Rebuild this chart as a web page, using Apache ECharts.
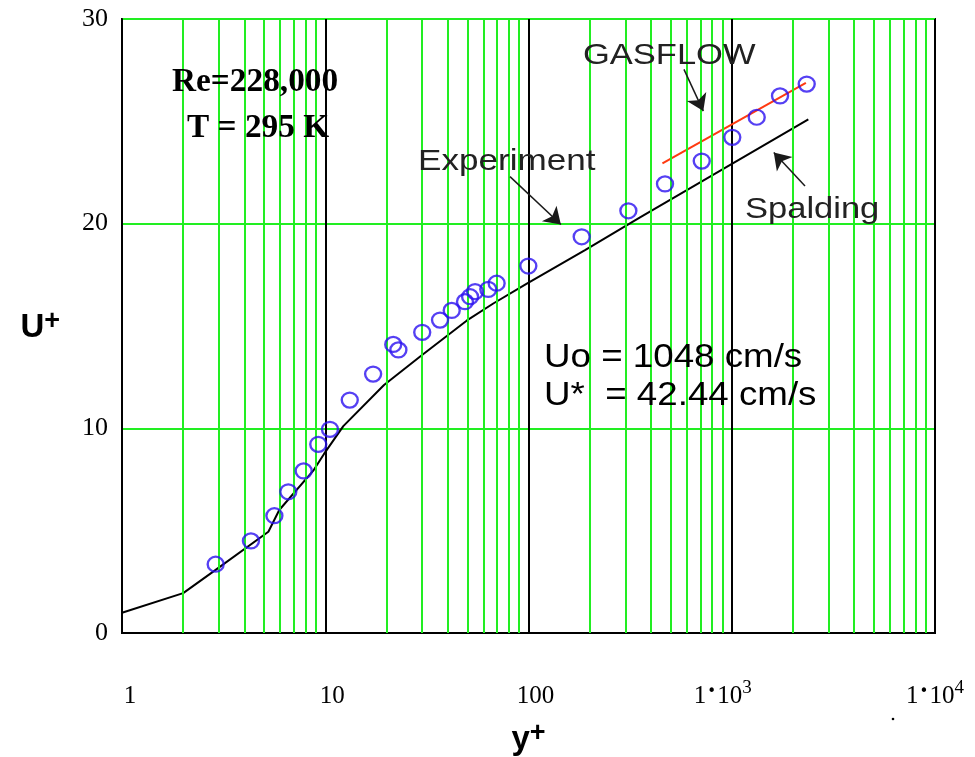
<!DOCTYPE html>
<html><head><meta charset="utf-8">
<script src="https://cdn.jsdelivr.net/npm/echarts@6/dist/echarts.min.js"></script>
<style>html,body{margin:0;padding:0;background:#fff}#c{width:975px;height:757px}</style>
</head><body><div id="c"></div>
<script>
// Spalding law-of-the-wall curve
const spaldingX = [1, 2, 2.81, 5.25, 5.94, 8.73, 9.86, 12.27, 19.46, 29.2, 49.6, 67.1, 97.2, 189.7, 353.8, 2381];
const spaldingY = [0.99, 1.95, 3.0, 4.95, 6.01, 7.93, 8.75, 10.11, 12.12, 13.5, 15.26, 16.1, 17.05, 18.71, 20.31, 25.1];
// Experiment points
const expX = [2.89, 4.31, 5.62, 6.58, 7.83, 9.24, 10.55, 13.2, 17.2, 21.6, 22.9, 30.0, 36.7, 41.9, 48.7, 51.6, 54.6, 63.4, 69.7, 99.8, 182.7, 310, 469.5, 711.8, 1006, 1327, 1728, 2338];
const expY = [3.36, 4.50, 5.73, 6.90, 7.92, 9.22, 9.95, 11.38, 12.65, 14.1, 13.83, 14.69, 15.29, 15.76, 16.19, 16.43, 16.68, 16.79, 17.09, 17.93, 19.36, 20.63, 21.94, 23.06, 24.22, 25.2, 26.24, 26.82];
// GASFLOW line
const gasflowX = [456, 2316];
const gasflowY = [22.95, 26.88];
// Minor (green) vertical grid values
const minorGridX = [2,3,4,5,6,7,8,9, 20,30,40,50,60,70,80,90, 200,300,400,500,600,700,800,900, 2000,3000,4000,5000,6000,7000,8000,9000];
// Tick labels
const xTickMant = ['1', '10', '100', '1', '1'];
const xTickExp = ['', '', '', '3', '4'];
const yTickLabels = ['0', '10', '20', '30'];
// Annotation arrows (data coordinates): from -> to
const arrowFrom = [[81.1, 22.3], [582, 27.54], [2293, 21.84]];
const arrowTo = [[144.3, 19.96], [724.4, 25.5], [1610, 23.48]];

const zip = (a, b) => a.map((v, i) => [v, b[i]]);
const GREEN = '#22ee22';

const chart = echarts.init(document.getElementById('c'));
chart.setOption({
  animation: false,
  backgroundColor: '#fff',
  grid: { left: 122, right: 40, top: 19, bottom: 124, show: true, borderColor: '#000', borderWidth: 2, backgroundColor: 'transparent', outerBoundsMode: 'none', containLabel: false },
  xAxis: {
    type: 'log', logBase: 10, min: 1, max: 10000,
    axisLine: { show: true, lineStyle: { color: '#000', width: 2 } },
    axisTick: { show: false },
    splitLine: { show: true, lineStyle: { color: '#000', width: 2 } },
    axisLabel: {
      margin: 46,
      formatter: function (v) {
        const i = Math.round(Math.log10(v));
        if (i < 0 || i >= xTickMant.length) return '';
        if (xTickExp[i]) {
          return '{n|' + xTickMant[i] + '}{d|•}{n|10}{s|' + xTickExp[i] + '}' + (i === 3 ? '{sp2|}' : '');
        }
        return (i === 0 ? '{sp0|}' : '{sp|}') + '{n|' + xTickMant[i] + '}';
      },
      rich: {
        n: { fontFamily: 'Liberation Serif', fontSize: 25, color: '#000', lineHeight: 30, verticalAlign: 'bottom' },
        d: { fontFamily: 'DejaVu Sans', fontSize: 15, color: '#000', lineHeight: 15, verticalAlign: 'middle', padding: [0, 1, 4, 1] },
        s: { fontFamily: 'Liberation Serif', fontSize: 19, color: '#000', lineHeight: 16, verticalAlign: 'top' },
        sp: { width: 14 },
        sp0: { width: 16 },
        sp2: { width: 18 }
      }
    },
    name: '{y|y}{p|+}', nameLocation: 'middle', nameGap: 87,
    nameTextStyle: {
      rich: {
        y: { fontFamily: 'Liberation Sans', fontWeight: 'bold', fontSize: 33, color: '#000', lineHeight: 36, verticalAlign: 'bottom' },
        p: { fontFamily: 'Liberation Sans', fontWeight: 'bold', fontSize: 27, color: '#000', lineHeight: 22, verticalAlign: 'top' }
      }
    }
  },
  yAxis: {
    type: 'value', min: 0, max: 30, interval: 10,
    axisLine: { show: true, lineStyle: { color: '#000', width: 2 } },
    axisTick: { show: false },
    splitLine: { show: true, lineStyle: { color: GREEN, width: 2 } },
    axisLabel: {
      margin: 14, fontFamily: 'Liberation Serif', fontSize: 26, color: '#000',
      formatter: function (v) { return yTickLabels[Math.round(v / 10)]; }
    },
    name: '{u|U}{p|+}', nameLocation: 'middle', nameGap: 62, nameRotate: 0,
    nameTextStyle: {
      rich: {
        u: { fontFamily: 'Liberation Sans', fontWeight: 'bold', fontSize: 33, color: '#000', lineHeight: 36, verticalAlign: 'bottom' },
        p: { fontFamily: 'Liberation Sans', fontWeight: 'bold', fontSize: 27, color: '#000', lineHeight: 22, verticalAlign: 'top' }
      }
    }
  },
  series: [
    {
      name: 'minorGrid', type: 'line', data: [], z: 1, silent: true,
      markLine: {
        silent: true, symbol: ['none', 'none'], label: { show: false },
        lineStyle: { color: GREEN, width: 2, type: 'solid' },
        emphasis: { disabled: true },
        data: minorGridX.map(v => ({ xAxis: v }))
      }
    },
    {
      name: 'Spalding', type: 'line', data: zip(spaldingX, spaldingY), z: 4,
      showSymbol: false, symbol: 'none', lineStyle: { color: '#000', width: 2 }
    },
    {
      name: 'GASFLOW', type: 'line', data: zip(gasflowX, gasflowY), z: 4,
      showSymbol: false, symbol: 'none', lineStyle: { color: '#ff3a10', width: 2 }
    },
    {
      name: 'Experiment', type: 'scatter', data: zip(expX, expY), z: 5,
      symbol: 'circle', symbolSize: [16, 15],
      itemStyle: { color: 'rgba(0,0,0,0)', borderColor: '#2a10f0', borderWidth: 2.3 }
    },
    {
      name: 'arrows', type: 'line', data: [], z: 6, silent: true,
      markLine: {
        silent: true, symbol: ['none', 'arrow'], symbolSize: 16, label: { show: false },
        lineStyle: { color: '#1a1a1a', width: 1.5, type: 'solid' },
        emphasis: { disabled: true },
        data: arrowFrom.map((f, i) => [{ coord: f }, { coord: arrowTo[i] }])
      }
    }
  ],
  graphic: [
    { type: 'text', x: 172, y: 82, z: 100, scaleX: 1.01, style: { text: 'Re=228,000', font: 'bold 33px "Liberation Serif"', fill: '#000', verticalAlign: 'middle' } },
    { type: 'text', x: 187, y: 128, z: 100, scaleX: 1.01, style: { text: 'T = 295 K', font: 'bold 33px "Liberation Serif"', fill: '#000', verticalAlign: 'middle' } },
    { type: 'text', x: 583, y: 56, z: 100, scaleX: 1.15, style: { text: 'GASFLOW', font: '30px "Liberation Sans"', fill: '#222', verticalAlign: 'middle' } },
    { type: 'text', x: 418, y: 162, z: 100, scaleX: 1.17, style: { text: 'Experiment', font: '30px "Liberation Sans"', fill: '#222', verticalAlign: 'middle' } },
    { type: 'text', x: 745, y: 210, z: 100, scaleX: 1.15, style: { text: 'Spalding', font: '30px "Liberation Sans"', fill: '#222', verticalAlign: 'middle' } },
    { type: 'text', x: 544, y: 358, z: 100, scaleX: 1.08, style: { text: 'Uo = 1048 cm/s', font: '34px "Liberation Sans"', fill: '#000', verticalAlign: 'middle' } },
    { type: 'text', x: 544, y: 396, z: 100, scaleX: 1.08, style: { text: 'U*  = 42.44 cm/s', font: '34px "Liberation Sans"', fill: '#000', verticalAlign: 'middle' } },
    { type: 'circle', z: 100, shape: { cx: 893, cy: 719, r: 1.3 }, style: { fill: '#000' } }
  ]
});
</script>
</body></html>
